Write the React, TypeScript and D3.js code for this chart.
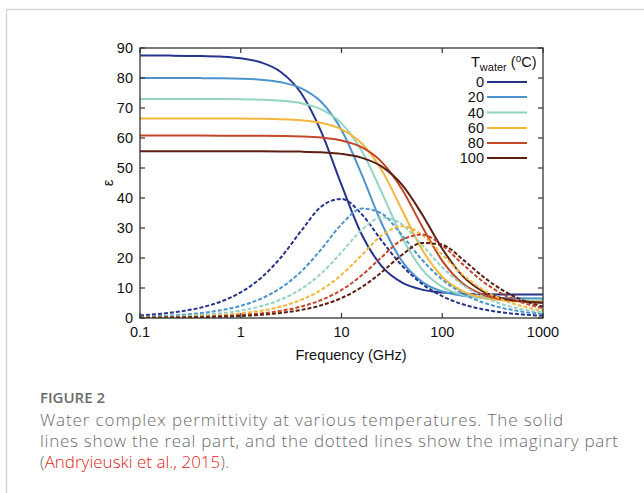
import React from "react";
import * as d3 from "d3";

const W = 644;
const H = 493;

const freqs = [0.1, 0.2, 0.4, 0.63, 1, 1.6, 2.5, 4, 6.3, 10, 16, 25, 40, 63, 100, 160, 250, 400, 630, 1000];
const temps = ["0", "20", "40", "60", "80", "100"];
const colors = ["#27348b", "#4d94cf", "#93d3c1", "#f4b73c", "#c4472a", "#5c1f12"];

const real0 = [87.49, 87.46, 87.35, 87.13, 86.57, 85.16, 82.02, 74.83, 62.06, 44.34, 27.6, 17.31, 11.8, 9.46, 8.47, 8.06, 7.91, 7.84, 7.82, 7.81];
const imag0 = [0.87, 1.73, 3.46, 5.43, 8.56, 13.45, 20.17, 29.14, 37.16, 39.71, 34.44, 25.83, 17.41, 11.4, 7.27, 4.57, 2.93, 1.83, 1.16, 0.73];
const real20 = [80.0, 79.99, 79.96, 79.91, 79.77, 79.42, 78.61, 76.54, 71.98, 62.67, 47.56, 31.59, 18.88, 12.05, 8.81, 7.42, 6.88, 6.65, 6.56, 6.52];
const imag20 = [0.41, 0.82, 1.63, 2.57, 4.07, 6.48, 10.02, 15.57, 22.92, 31.21, 36.5, 34.85, 27.5, 19.42, 12.82, 8.17, 5.26, 3.3, 2.1, 1.32];
const real40 = [73.0, 73.0, 72.99, 72.96, 72.91, 72.76, 72.43, 71.56, 69.53, 64.89, 55.53, 41.98, 26.83, 16.23, 10.37, 7.66, 6.57, 6.1, 5.92, 5.85];
const imag40 = [0.25, 0.5, 1.0, 1.57, 2.49, 3.97, 6.17, 9.74, 14.87, 21.89, 29.47, 33.5, 31.16, 24.33, 16.91, 11.03, 7.18, 4.52, 2.88, 1.81];
const real60 = [66.5, 66.5, 66.49, 66.48, 66.46, 66.4, 66.26, 65.89, 65.02, 62.9, 58.06, 49.31, 35.9, 22.88, 13.74, 8.9, 6.83, 5.91, 5.55, 5.4];
const imag60 = [0.15, 0.31, 0.61, 0.96, 1.53, 2.44, 3.81, 6.06, 9.41, 14.4, 21.1, 27.51, 30.6, 27.69, 21.1, 14.4, 9.55, 6.06, 3.87, 2.44];
const real80 = [60.8, 60.8, 60.8, 60.79, 60.78, 60.76, 60.7, 60.54, 60.15, 59.19, 56.85, 52.06, 42.81, 30.6, 19.05, 11.48, 7.85, 6.15, 5.47, 5.19];
const imag80 = [0.1, 0.19, 0.38, 0.61, 0.96, 1.54, 2.4, 3.83, 5.99, 9.34, 14.31, 20.28, 26.08, 27.81, 24.22, 17.88, 12.28, 7.92, 5.09, 3.23];
const real100 = [55.6, 55.6, 55.6, 55.6, 55.59, 55.58, 55.54, 55.46, 55.24, 54.71, 53.39, 50.52, 44.35, 34.58, 23.09, 13.95, 8.99, 6.53, 5.51, 5.08];
const imag100 = [0.07, 0.14, 0.27, 0.43, 0.68, 1.08, 1.69, 2.7, 4.24, 6.65, 10.37, 15.24, 21.09, 25.02, 24.38, 19.52, 13.98, 9.2, 5.96, 3.79];

const realParts = [real0, real20, real40, real60, real80, real100];
const imagParts = [imag0, imag20, imag40, imag60, imag80, imag100];

const xTicks = [0.1, 1, 10, 100, 1000];
const xTickLabels = ["0.1", "1", "10", "100", "1000"];
const yTicks = [0, 10, 20, 30, 40, 50, 60, 70, 80, 90];

const PL = 140, PR = 543, PT = 48, PB = 318;

export default function App() {
  const x = d3.scaleLog().domain([0.1, 1000]).range([PL, PR]);
  const y = d3.scaleLinear().domain([0, 90]).range([PB, PT]);
  const line = (vals: number[]) =>
    d3.line<number>()
      .x((_, i) => x(freqs[i]))
      .y((v) => y(v))
      .curve(d3.curveMonotoneX)(vals) || "";

  const axisFont = "'Liberation Sans', Arial, Helvetica, sans-serif";
  const capFont = "'Open Sans', 'Noto Sans', sans-serif";
  const legendY = [82, 97, 112.5, 128, 143, 158];
  const fs = 14.5;

  return (
    <svg width={W} height={H} style={{ position: "absolute", left: 0, top: 0 }} xmlns="http://www.w3.org/2000/svg">
      <rect x={0} y={0} width={W} height={H} fill="#fff" />
      <line x1={6.5} y1={9.5} x2={W} y2={9.5} stroke="#d6d6d6" strokeWidth={1.5} />
      <line x1={6.5} y1={9.5} x2={6.5} y2={H} stroke="#d6d6d6" strokeWidth={1.5} />

      <defs>
        <clipPath id="plotclip">
          <rect x={PL} y={PT} width={PR - PL} height={PB - PT} />
        </clipPath>
      </defs>

      <g clipPath="url(#plotclip)">
        {realParts.map((vals, i) => (
          <path key={"r" + i} d={line(vals)} fill="none" stroke={colors[i]} strokeWidth={2} />
        ))}
        {imagParts.map((vals, i) => (
          <path key={"m" + i} d={line(vals)} fill="none" stroke={colors[i]} strokeWidth={2} strokeDasharray="4,2" />
        ))}
      </g>

      {yTicks.map((t) => (
        <g key={"yt" + t}>
          <line x1={PL} x2={PL + 5} y1={y(t)} y2={y(t)} stroke="#333" strokeWidth={1.2} />
          <line x1={PR} x2={PR - 5} y1={y(t)} y2={y(t)} stroke="#333" strokeWidth={1.2} />
          <text x={133} y={y(t)} dy="0.36em" textAnchor="end" fontFamily={axisFont} fontSize={fs} fill="#111">{t}</text>
        </g>
      ))}
      {xTicks.map((t, i) => (
        <g key={"xt" + t}>
          <line x1={x(t)} x2={x(t)} y1={PB} y2={PB - 5} stroke="#333" strokeWidth={1.2} />
          <line x1={x(t)} x2={x(t)} y1={PT} y2={PT + 5} stroke="#333" strokeWidth={1.2} />
          <text x={x(t)} y={332} dy="0.36em" textAnchor="middle" fontFamily={axisFont} fontSize={fs} fill="#111">{xTickLabels[i]}</text>
        </g>
      ))}

      <rect x={PL} y={PT} width={PR - PL} height={PB - PT} fill="none" stroke="#333" strokeWidth={1.3} />

      <text x={351} y={355} dy="0.36em" textAnchor="middle" fontFamily={axisFont} fontSize={fs} fill="#111">Frequency (GHz)</text>
      <text transform="translate(108,183) rotate(-90)" dy="0.36em" textAnchor="middle" fontFamily={axisFont} fontSize={15} fill="#111">ε</text>

      <text x={471} y={67} fontFamily={axisFont} fontSize={fs} fill="#111">
        T<tspan dy={4} fontSize={11}>water</tspan><tspan dy={-4}> (</tspan><tspan dy={-5} fontSize={10}>o</tspan><tspan dy={5}>C)</tspan>
      </text>
      {temps.map((t, i) => (
        <g key={"lg" + t}>
          <text x={484} y={legendY[i]} dy="0.36em" textAnchor="end" fontFamily={axisFont} fontSize={fs} fill="#111">{t}</text>
          <line x1={487} x2={527} y1={legendY[i]} y2={legendY[i]} stroke={colors[i]} strokeWidth={2} />
        </g>
      ))}

      <text x={40} y={403} fontFamily={capFont} fontSize={15} fontWeight={600} fill="#6b6b6b">FIGURE 2</text>
      <text x={40} y={426} fontFamily={capFont} fontSize={17} fontWeight={300} fill="#6b6b6b" textLength={523} lengthAdjust="spacing">Water complex permittivity at various temperatures. The solid</text>
      <text x={40} y={447} fontFamily={capFont} fontSize={17} fontWeight={300} fill="#6b6b6b" textLength={578} lengthAdjust="spacing">lines show the real part, and the dotted lines show the imaginary part</text>
      <text x={40} y={468} fontFamily={capFont} fontSize={17} fontWeight={300} fill="#6b6b6b">
        (<tspan fill="#e2231a">Andryieuski et al., 2015</tspan>).
      </text>
    </svg>
  );
}
